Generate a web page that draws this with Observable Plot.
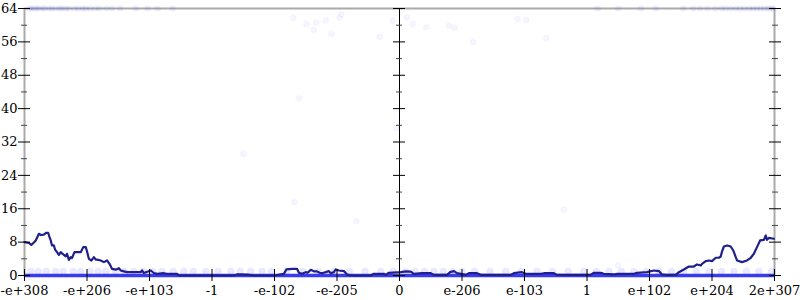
<!DOCTYPE html>
<html><head><meta charset="utf-8">
<script src="https://cdn.jsdelivr.net/npm/d3@7"></script>
<script src="https://cdn.jsdelivr.net/npm/@observablehq/plot@0.6"></script>
<style>body{margin:0;background:#fff}</style>
</head><body><div id="chart"></div>
<script>
// x positions are in tick units (0..12), one unit per labelled tick
const xTickPos = [0,1,2,3,4,5,6,7,8,9,10,11,12];
const xTickLabels = ["-e+308","-e+206","-e+103","-1","-e-102","-e-205","0","e-206","e-103","1","e+102","e+204","2e+307"];
const yTicks = [0,8,16,24,32,40,48,56,64];
const yMinorTicks = [4,12,20,28,36,44,52,60];

// moving-average line
const trendX = [0.00,0.07,0.11,0.15,0.18,0.21,0.23,0.26,0.31,0.34,0.38,0.40,0.42,0.44,0.47,0.49,0.52,0.55,0.58,0.60,0.66,0.68,0.71,0.74,0.76,0.80,0.84,0.90,0.94,0.98,1.00,1.03,1.07,1.11,1.14,1.16,1.22,1.27,1.32,1.36,1.40,1.46,1.51,1.54,1.59,1.64,
  1.86,1.88,1.91,2.02,2.07,2.12,2.23,2.28,2.44,2.47,3.35,3.40,3.56,3.67,3.99,4.15,4.19,4.28,4.36,4.39,4.44,4.50,4.53,4.58,4.63,4.68,4.72,4.76,4.82,4.87,4.90,4.95,4.98,5.03,5.11,5.16,5.22,5.54,5.59,5.75,5.78,5.83,6.02,
  6.10,6.18,6.23,6.36,6.50,6.55,6.76,6.81,6.87,6.92,6.98,7.06,7.11,7.24,7.30,7.78,7.83,7.96,8.02,8.26,8.31,8.47,8.52,9.06,9.11,9.22,9.27,9.43,9.48,9.75,9.80,9.96,10.07,10.15,10.20,10.26,10.42,10.47,10.55,10.63,10.71,10.76,10.82,10.84,10.90,10.95,11.00,11.06,11.11,11.14,11.16,11.19,11.24,11.30,11.34,11.38,11.40,11.48,11.56,11.62,11.67,11.72,11.77,11.83,11.86,11.88,11.91,11.99];
const trendY = [8.0,7.8,7.35,7.9,8.4,9.35,10.0,9.7,9.8,10.2,10.2,9.2,8.4,7.2,7.2,6.2,5.6,4.95,5.6,5.3,4.6,5.2,3.75,4.4,4.2,5.6,5.6,5.6,6.8,6.8,5.8,4.0,3.6,4.4,3.8,3.8,3.6,3.2,3.6,2.8,1.6,1.4,1.75,1.2,1.0,0.8,
  0.8,1.2,0.6,1.2,0.6,0.4,0.55,0.4,0.4,0.0,0.0,0.25,0.2,0.0,0.0,0.4,1.45,1.6,1.6,0.65,0.4,0.8,0.65,1.35,1.0,1.0,0.65,0.55,0.8,1.05,0.55,0.8,1.45,1.2,1.05,0.25,0.0,0.0,0.4,0.4,0.15,0.65,0.8,
  1.0,0.95,0.4,0.55,0.55,0.15,0.15,0.8,1.05,0.55,0.4,0.15,0.55,0.55,0.15,0.15,0.55,0.8,0.4,0.4,0.55,0.55,0.15,0.15,0.65,0.65,0.4,0.25,0.4,0.4,0.65,0.8,1.2,1.05,0.25,0.15,0.15,0.8,1.45,2.15,2.15,2.65,2.4,2.8,3.45,3.6,3.45,4.25,4.25,4.55,5.75,6.95,7.2,6.95,6.0,4.4,3.6,3.2,3.6,4.25,5.2,6.8,8.4,8.55,9.6,8.55,9.0,8.8];

// individual scattered samples
const scatterX = [4.30,4.39,4.51,4.63,4.67,4.82,4.91,5.04,5.07,5.68,5.89,5.95,6.12,6.21,6.43,6.79,6.88,7.18,7.89,8.03,8.35,3.50,4.32,5.31,8.63,9.50];
const scatterY = [61.8,42.5,60.3,58.9,60.7,61.1,57.9,61.8,62.6,57.3,61.1,35.3,61.9,60.3,59.5,59.9,59.4,56.0,61.5,61.3,56.9,29.2,17.6,13.0,15.8,2.4];

// samples at the top value (64)
const topValue = 64;
const topLeftX = [0.08,0.11,0.16,0.2,0.24,0.3,0.33,0.4,0.44,0.5,0.56,0.6,0.66,0.71,0.8,0.86,0.93,0.98,1.05,1.13,1.2,1.31,1.4,1.53,1.78,1.97,2.13,2.37];
const topRightX = [9.17,9.5,9.86,10.1,10.54,10.7,10.81,10.93,11.05,11.15,11.22,11.3,11.38,11.45,11.52,11.6,11.66,11.72,11.78,11.84,11.9,11.95,11.98];

// samples near the bottom (values 1 and 0)
const hazeValue = 1;
const hazeX = [0.1,0.22,0.35,0.5,0.62,0.78,0.9,1.05,1.18,1.3,1.46,1.6,1.75,1.9,2.05,2.2,2.38,2.55,2.7,2.9,3.1,3.3,3.45,3.62,3.8,3.95,4.2,4.45,4.7,4.95,5.2,5.45,5.7,5.9,6.1,6.25,6.4,6.55,6.7,6.85,7.0,7.2,7.45,7.7,7.95,8.2,8.45,8.7,8.95,9.15,9.35,9.55,9.75,9.95,10.15,10.35,10.55,10.75,10.95,11.15,11.35,11.55,11.75,11.95];
const zeroValue = 0;

const trend = trendX.map((x, i) => ({x, y: trendY[i]}));
const scatter = scatterX.map((x, i) => ({x, y: scatterY[i]}));
const tops = topLeftX.concat(topRightX).map(x => ({x, y: topValue}));
const haze = hazeX.map(x => ({x, y: hazeValue}));

const dotStyle = {fill: "blue", fillOpacity: 0.035, stroke: "blue", strokeOpacity: 0.025, r: 2.8};
const noLabel = () => "";

const plot = Plot.plot({
  width: 800, height: 300,
  marginLeft: 24, marginRight: 26, marginTop: 8, marginBottom: 25,
  style: {fontFamily: "DejaVu Serif", fontSize: "13px", background: "white", color: "black", overflow: "visible"},
  x: {domain: [xTickPos[0], xTickPos[xTickPos.length - 1]], label: null},
  y: {domain: [yTicks[0], yTicks[yTicks.length - 1]], label: null},
  marks: [
    Plot.frame({stroke: "#aaa", strokeWidth: 2}),
    Plot.dot(haze, {x: "x", y: "y", ...dotStyle, fillOpacity: 0.08, strokeOpacity: 0.04, r: 3.2}),
    Plot.dot(tops, {x: "x", y: "y", ...dotStyle, fillOpacity: 0.06}),
    Plot.dot(scatter, {x: "x", y: "y", ...dotStyle}),
    Plot.ruleY([zeroValue], {stroke: "#3a3aee", strokeWidth: 3.5}),
    Plot.line(trend, {x: "x", y: "y", stroke: "#20208c", strokeWidth: 2.2}),
    Plot.ruleX([xTickPos[6]], {stroke: "black", strokeWidth: 1}),
    // left axis
    Plot.axisY(yTicks, {anchor: "left", tickSize: 12, dx: 6, tickPadding: 1, stroke: "black", label: null}),
    Plot.axisY(yMinorTicks, {anchor: "left", tickSize: 6, dx: 3, tickFormat: noLabel, stroke: "#444", label: null}),
    // centre axis
    Plot.axisY(yTicks, {anchor: "left", tickSize: 12, dx: 381, tickFormat: noLabel, stroke: "black", label: null}),
    Plot.axisY(yMinorTicks, {anchor: "left", tickSize: 6, dx: 378, tickFormat: noLabel, stroke: "#444", label: null}),
    // right axis
    Plot.axisY(yTicks, {anchor: "right", tickSize: 12, dx: -6, tickFormat: noLabel, stroke: "black", label: null}),
    Plot.axisY(yMinorTicks, {anchor: "right", tickSize: 6, dx: -3, tickFormat: noLabel, stroke: "#444", label: null}),
    // bottom axis
    Plot.axisX(xTickPos, {anchor: "bottom", tickSize: 12, dy: -6, tickPadding: 4, tickFormat: i => xTickLabels[i], stroke: "black", label: null})
  ]
});
document.getElementById("chart").appendChild(plot);
</script>
</body></html>
